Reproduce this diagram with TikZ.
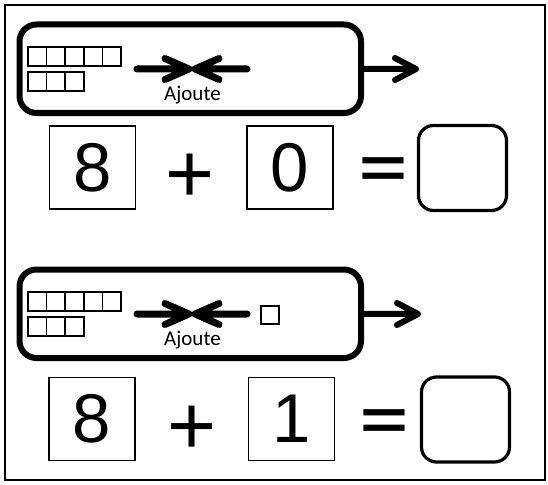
\documentclass[tikz,border=0pt]{standalone}
\usepackage{fontspec}
\setmainfont{Liberation Sans}
\newfontfamily\labfont{Carlito}
\begin{document}
\begin{tikzpicture}[x=1pt,y=-1pt,
  frame/.style={draw, line width=2pt},
  panel/.style={draw, line width=6pt, rounded corners=17pt, minimum width=341.5pt, minimum height=88.5pt, inner sep=0pt},
  cell/.style={line width=1.5pt},
  numbox/.style={draw, line width=1.8pt, minimum width=86pt, minimum height=83pt, inner sep=0pt, font=\fontsize{69}{69}\selectfont},
  ansbox/.style={draw, line width=3.2pt, rounded corners=15pt, minimum width=88pt, minimum height=85pt, inner sep=0pt},
  op/.style={inner sep=0pt, font=\fontsize{84}{84}\selectfont, anchor=base},
  eqop/.style={inner sep=0pt, font=\fontsize{82}{82}\selectfont\bfseries, anchor=center},
  joinline/.style={line width=7pt, line cap=round, line join=round},
  outline/.style={line width=6pt, line cap=round, line join=round},
  lab/.style={font=\labfont\fontsize{21}{21}\selectfont, anchor=base, inner sep=0pt}
]
\useasboundingbox (0,0) rectangle (548,484);
\draw[frame] (5,5) rectangle (545,480);

% ---------- first exercise ----------
\node[panel] (p1) at (190.25,68.75) {};
\foreach \i in {0,...,4} \draw[cell] ({28+\i*18.6},47) rectangle ++(18.6,19);
\foreach \i in {0,...,2} \draw[cell] ({28+\i*18.6},72) rectangle ++(18.6,19);
\coordinate (l1) at (137,69);
\coordinate (m1) at (189,69);
\coordinate (n1) at (195,69);
\coordinate (r1) at (247,69);
\draw[joinline] (l1) -- (m1) ++(-24,-10.5) -- (m1) -- ++(-24,10.5);
\draw[joinline] (r1) -- (n1) ++(24,-10.5) -- (n1) -- ++(24,10.5);
\node[lab] (t1) at (192.5,100) {Ajoute};
\coordinate (o1) at (416,69);
\draw[outline] (p1.east) -- (o1) ++(-21,-11) -- (o1) -- ++(-21,11);

\node[numbox] (a1) at (92.5,167.5) {8};
\node[op] (plus1) at (190,202) {+};
\node[numbox] (b1) at (290,167.5) {0};
\node[eqop] (eq1) at (383,173) {\scalebox{1}[0.7]{=}};
\node[ansbox] (c1) at (462.5,168) {};

% ---------- second exercise ----------
\node[panel] (p2) at (190.25,313.75) {};
\foreach \i in {0,...,4} \draw[cell] ({28+\i*18.6},292) rectangle ++(18.6,19);
\foreach \i in {0,...,2} \draw[cell] ({28+\i*18.6},317) rectangle ++(18.6,19);
\coordinate (l2) at (137,314);
\coordinate (m2) at (189,314);
\coordinate (n2) at (195,314);
\coordinate (r2) at (247,314);
\draw[joinline] (l2) -- (m2) ++(-24,-10.5) -- (m2) -- ++(-24,10.5);
\draw[joinline] (r2) -- (n2) ++(24,-10.5) -- (n2) -- ++(24,10.5);
\node[lab] (t2) at (192.5,345) {Ajoute};
\draw[cell] (261,306) rectangle (279,324);
\coordinate (o2) at (418,314);
\draw[outline] (p2.east) -- (o2) ++(-21,-11) -- (o2) -- ++(-21,11);

\node[numbox] (a2) at (92,419) {8};
\node[op] (plus2) at (192,454) {+};
\node[numbox] (b2) at (291.5,419) {1};
\node[eqop] (eq2) at (384,425) {\scalebox{1}[0.7]{=}};
\node[ansbox] (c2) at (465.5,419.5) {};
\end{tikzpicture}
\end{document}
